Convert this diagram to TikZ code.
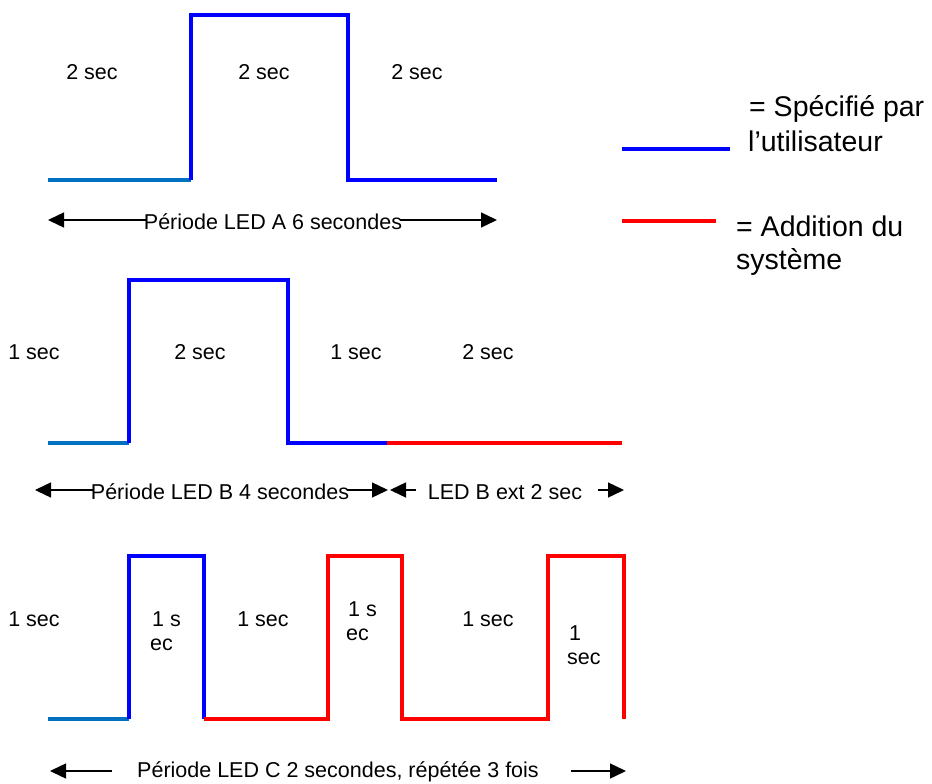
\documentclass[tikz,border=0pt]{standalone}
\usepackage{fontspec}
\setmainfont{Liberation Sans}
\usetikzlibrary{arrows.meta}
\definecolor{wavesteel}{HTML}{0070C0}
\definecolor{waveblue}{HTML}{0000FF}
\definecolor{wavered}{HTML}{FF0000}
\begin{document}
\begin{tikzpicture}[x=1pt,y=-1pt,
  wave/.style={line width=3.3pt, line join=miter},
  lowwave/.style={line width=3.1pt, wavesteel},
  lbl/.style={font=\fontsize{21.5}{24}\selectfont, inner sep=0pt},
  lblw/.style={font=\fontsize{21.5}{24}\selectfont, inner sep=0pt, anchor=base west},
  dimarrow/.style={line width=1.4pt, -{Triangle[length=16pt,width=15pt]}},
  legtext/.style={font=\fontsize{28.5}{32}\selectfont, inner sep=0pt, anchor=base west}]
\useasboundingbox (0,0) rectangle (932,784);

% ---------- Waveform A ----------
\coordinate (a0) at (48,180);
\coordinate (a1) at (191,180);
\coordinate (a2) at (191,15);
\coordinate (a3) at (348,15);
\coordinate (a4) at (348,180);
\coordinate (a5) at (497,180);
\draw[lowwave] (a0) -- (a1);
\draw[wave, waveblue] (a1) -- (a2) -- (a3) -- (a4) -- (a5);
\node[lbl] (la1) at (92,72) {2 sec};
\node[lbl] (la2) at (264,72) {2 sec};
\node[lbl] (la3) at (417,72) {2 sec};
\node[lbl] (pa) at (273,222) {Période LED A 6 secondes};
\coordinate (pal) at (48,220);
\coordinate (par) at (497,220);
\draw[dimarrow] (pa.west |- pal) ++(2,0) -- (pal);
\draw[dimarrow] (pa.east |- par) ++(-2,0) -- (par);

% ---------- Waveform B ----------
\coordinate (b0) at (48,443);
\coordinate (b1) at (129,443);
\coordinate (b2) at (129,280);
\coordinate (b3) at (288,280);
\coordinate (b4) at (288,443);
\coordinate (b5) at (387,443);
\coordinate (b6) at (622,443);
\draw[lowwave] (b0) -- (b1);
\draw[wave, waveblue] (b1) -- (b2) -- (b3) -- (b4) -- (b5);
\draw[wave, wavered] (b5) -- (b6);
\node[lbl] (lb1) at (34,352) {1 sec};
\node[lbl] (lb2) at (200,352) {2 sec};
\node[lbl] (lb3) at (356,352) {1 sec};
\node[lbl] (lb4) at (488,352) {2 sec};
\node[lbl] (pb) at (220,492) {Période LED B 4 secondes};
\node[lbl] (eb) at (505,492) {LED B ext 2 sec};
\coordinate (pbl) at (35,490);
\coordinate (pbr) at (388,490);
\coordinate (ebl) at (390,490);
\coordinate (ebls) at (416,490);
\coordinate (ebrs) at (598,490);
\coordinate (ebr) at (624,490);
\draw[dimarrow] (pb.west |- pbl) ++(3,0) -- (pbl);
\draw[dimarrow] (pb.east |- pbr) ++(-2,0) -- (pbr);
\draw[dimarrow] (ebls) -- (ebl);
\draw[dimarrow] (ebrs) -- (ebr);

% ---------- Waveform C ----------
\coordinate (c0) at (48,719);
\coordinate (c1) at (129,719);
\coordinate (c2) at (129,556);
\coordinate (c3) at (204,556);
\coordinate (c4) at (204,719);
\coordinate (c5) at (328,719);
\coordinate (c6) at (328,556);
\coordinate (c7) at (402,556);
\coordinate (c8) at (402,719);
\coordinate (c9) at (548,719);
\coordinate (c10) at (548,556);
\coordinate (c11) at (624,556);
\coordinate (c12) at (624,719);
\draw[lowwave] (c0) -- (c1);
\draw[wave, waveblue] (c1) -- (c2) -- (c3) -- (c4);
\draw[wave, wavered] (c4) -- (c5) -- (c6) -- (c7) -- (c8) -- (c9) -- (c10) -- (c11) -- (c12);
\node[lbl] (lc1) at (34,619) {1 sec};
\node[lblw] (lc2a) at (152,626) {1 s};
\node[lblw] (lc2b) at (150,650) {ec};
\node[lbl] (lc3) at (263,619) {1 sec};
\node[lblw] (lc4a) at (348,616) {1 s};
\node[lblw] (lc4b) at (346,640) {ec};
\node[lbl] (lc5) at (488,619) {1 sec};
\node[lblw] (lc6a) at (569,640) {1};
\node[lblw] (lc6b) at (567,664) {sec};
\node[lbl] (pc) at (338,772) {Période LED C 2 secondes, répétée 3 fois};
\coordinate (pcl) at (50,771);
\coordinate (pcls) at (112,771);
\coordinate (pcrs) at (571,771);
\coordinate (pcr) at (626,771);
\draw[dimarrow] (pcls) -- (pcl);
\draw[dimarrow] (pcrs) -- (pcr);

% ---------- Legend ----------
\coordinate (lg1a) at (622,149);
\coordinate (lg1b) at (730,149);
\coordinate (lg2a) at (622,221);
\coordinate (lg2b) at (716,221);
\draw[waveblue, line width=3.5pt] (lg1a) -- (lg1b);
\draw[wavered, line width=3.5pt] (lg2a) -- (lg2b);
\node[legtext] (lt1) at (749,117) {= Spécifié par};
\node[legtext] (lt2) at (748,151) {l’utilisateur};
\node[legtext] (lt3) at (736,236) {= Addition du};
\node[legtext] (lt4) at (736,269) {système};
\end{tikzpicture}
\end{document}
